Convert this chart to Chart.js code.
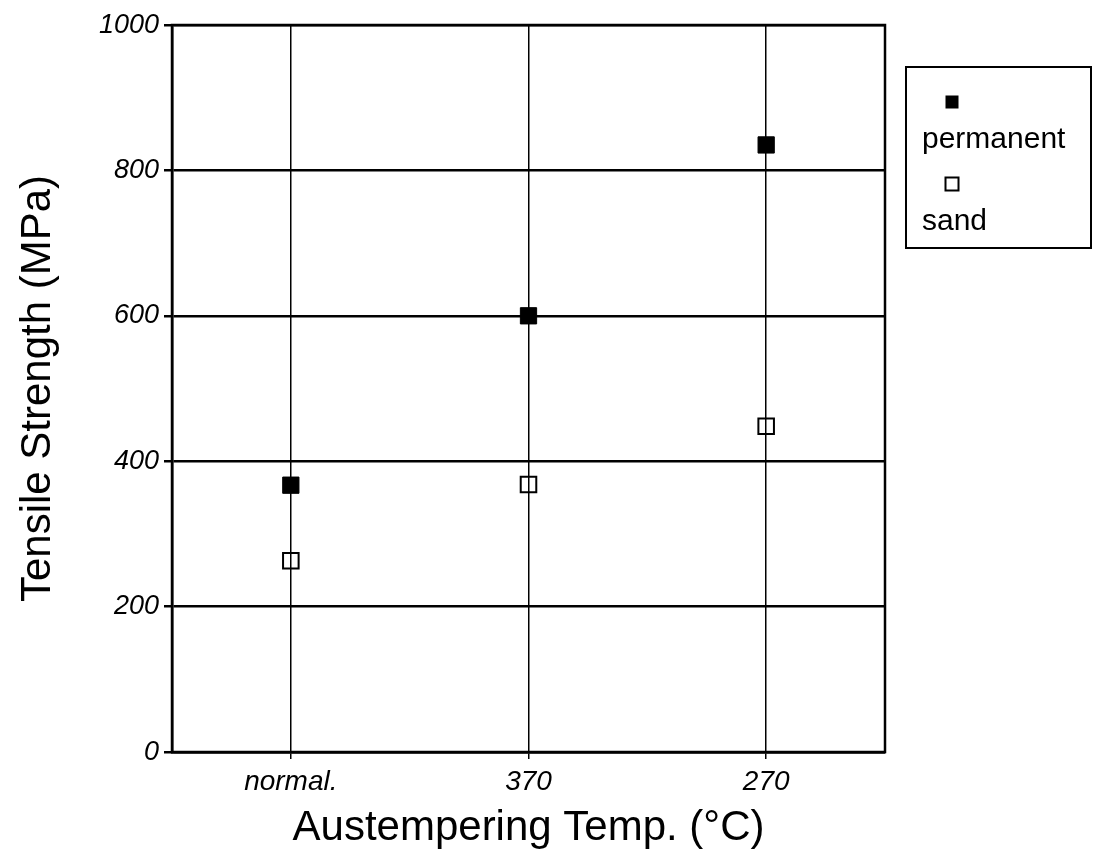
<!DOCTYPE html>
<html>
<head>
<meta charset="utf-8">
<script src="https://cdn.jsdelivr.net/npm/chart.js@4"></script>
<style>
  html, body { margin: 0; padding: 0; background: #fff; }
  #wrap { width: 1100px; height: 854px; }
</style>
</head>
<body>
<div id="wrap"><canvas id="chartTensile" width="1100" height="854"></canvas></div>
<script>
// DATA
const categories = ["normal.", "370", "270"];
const permanent = [367, 600, 835];
const sand = [263, 368, 448];
const yTicks = [0, 200, 400, 600, 800, 1000];

const FONT = "'Liberation Sans', Arial, Helvetica, sans-serif";

// frame round the plot + legend box with marker above the label
const framePlugin = {
    id: "frame",
    afterDraw(chart) {
        const ctx = chart.ctx;
        const a = chart.chartArea;
        ctx.save();
        ctx.strokeStyle = "#000";
        ctx.lineWidth = 2.5;
        ctx.strokeRect(a.left, a.top, a.right - a.left, a.bottom - a.top);

        // legend
        const bx = 906, by = 67, bw = 185, bh = 181;
        ctx.lineWidth = 2;
        ctx.strokeRect(bx, by, bw, bh);
        ctx.font = "30px " + FONT;
        ctx.fillStyle = "#000";
        ctx.textAlign = "left";
        ctx.textBaseline = "alphabetic";
        chart.data.datasets.forEach((ds, i) => {
            const my = by + 35 + i * 82;
            const mx = 952;
            const s = 13;
            if (ds.backgroundColor === "#000") {
                ctx.fillRect(mx - s / 2, my - s / 2, s, s);
            } else {
                ctx.lineWidth = 2;
                ctx.strokeRect(mx - s / 2, my - s / 2, s, s);
            }
            ctx.fillText(ds.label, 922, my + 46);
        });
        ctx.restore();
    },
};

const ctx = document.getElementById("chartTensile").getContext("2d");
new Chart(ctx, {
    type: "line",
    data: {
        labels: categories,
        datasets: [
            {
                label: "permanent",
                data: permanent,
                showLine: false,
                pointStyle: "rect",
                pointRadius: 11.5,
                pointHoverRadius: 11.5,
                backgroundColor: "#000",
                borderColor: "#000",
                borderWidth: 1,
            },
            {
                label: "sand",
                data: sand,
                showLine: false,
                pointStyle: "rect",
                pointRadius: 11,
                pointHoverRadius: 11,
                backgroundColor: "rgba(0,0,0,0)",
                borderColor: "#000",
                pointBorderWidth: 2,
                borderWidth: 2,
            },
        ],
    },
    options: {
        responsive: false,
        animation: false,
        layout: {
            padding: { left: 0, right: 215, top: 25, bottom: 0 },
        },
        plugins: {
            legend: { display: false },
            tooltip: { enabled: false },
        },
        scales: {
            x: {
                type: "category",
                offset: true,
                grid: {
                    offset: false,
                    color: "#000",
                    lineWidth: 1.5,
                    tickLength: 7,
                },
                border: { color: "#000", width: 2.5 },
                ticks: {
                    color: "#000",
                    padding: 6,
                    font: { family: FONT, size: 28, style: "italic" },
                },
                title: {
                    display: true,
                    text: "Austempering Temp. (°C)",
                    color: "#000",
                    font: { family: FONT, size: 42 },
                    padding: { top: 0, bottom: 0 },
                },
                afterFit(scale) {
                    scale.height = 102;
                },
            },
            y: {
                min: 0,
                max: 1000,
                afterBuildTicks(scale) {
                    scale.ticks = yTicks.map((v) => ({ value: v }));
                },
                grid: {
                    color: "#000",
                    lineWidth: 2.5,
                    tickLength: 8,
                },
                border: { color: "#000", width: 2.5 },
                ticks: {
                    color: "#000",
                    padding: 5,
                    font: { family: FONT, size: 27, style: "italic" },
                    callback: (v) => String(v),
                },
                title: {
                    display: true,
                    text: "Tensile Strength (MPa)",
                    color: "#000",
                    font: { family: FONT, size: 42 },
                    padding: { top: 13, bottom: 0 },
                },
                afterFit(scale) {
                    scale.width = 172;
                },
            },
        },
    },
    plugins: [framePlugin],
});
</script>
</body>
</html>
